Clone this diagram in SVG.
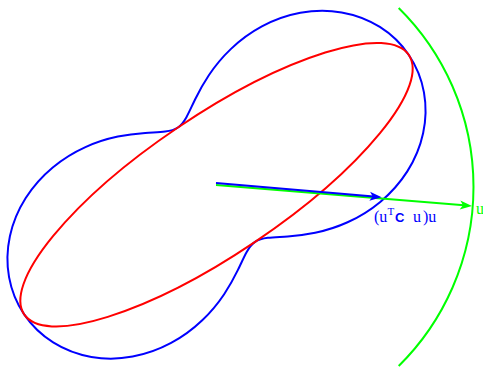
<svg xmlns="http://www.w3.org/2000/svg" width="483" height="368" viewBox="0 0 483 368">
<style>
.curve{fill:none;stroke-width:2}
.blue{stroke:#0000ff}
.red{stroke:#ff0000}
.green{stroke:#00ff00}
.serif{font-family:"Liberation Serif","Times New Roman",serif}
.sans{font-family:"Liberation Sans",Arial,sans-serif;font-weight:bold}
</style>
<defs>
<marker id="ahBlue" markerUnits="userSpaceOnUse" viewBox="-5 -6 14 12" markerWidth="14" markerHeight="12" refX="0" refY="0" orient="auto">
<path d="M8,0 L-4,-4.5 L-1,0 L-4,4.5 Z" fill="#0000ff"/>
</marker>
<marker id="ahGreen" markerUnits="userSpaceOnUse" viewBox="-5 -6 14 12" markerWidth="14" markerHeight="12" refX="0" refY="0" orient="auto">
<path d="M8,0 L-4,-4.5 L-1,0 L-4,4.5 Z" fill="#00ff00"/>
</marker>
</defs>
<rect width="483" height="368" fill="#ffffff"/>
<g id="unit-arc">
<path class="curve green" d="M398.7,8 A251.6,251.6 0 0 1 398.7,366"/>
</g>
<g id="peanut" transform="translate(216.5,184.7) rotate(-34)">
<path class="curve blue" d="M232,0 C232,13.50 229.13,26.98 223.64,39.43 C218.15,51.88 210.06,63.27 200.09,72.83 C190.13,82.39 178.31,90.10 165.63,95.63 C152.95,101.16 139.44,104.51 126.13,105.84 C112.82,107.18 99.72,106.51 87.64,104.45 C75.56,102.40 64.52,98.97 54.88,95.05 C45.24,91.13 37.02,86.74 30.12,82.76 C23.22,78.78 17.64,75.24 12.84,72.79 C8.04,70.34 4.01,69 0,69 C-4.01,69 -8.04,70.34 -12.84,72.79 C-17.64,75.24 -23.22,78.78 -30.12,82.76 C-37.02,86.74 -45.24,91.13 -54.88,95.05 C-64.52,98.97 -75.56,102.40 -87.64,104.45 C-99.72,106.51 -112.82,107.18 -126.13,105.84 C-139.44,104.51 -152.95,101.16 -165.63,95.63 C-178.31,90.10 -190.13,82.39 -200.09,72.83 C-210.06,63.27 -218.15,51.88 -223.64,39.43 C-229.13,26.98 -232,13.50 -232,0 C-232,-13.50 -229.13,-26.98 -223.64,-39.43 C-218.15,-51.88 -210.06,-63.27 -200.09,-72.83 C-190.13,-82.39 -178.31,-90.10 -165.63,-95.63 C-152.95,-101.16 -139.44,-104.51 -126.13,-105.84 C-112.82,-107.18 -99.72,-106.51 -87.64,-104.45 C-75.56,-102.40 -64.52,-98.97 -54.88,-95.05 C-45.24,-91.13 -37.02,-86.74 -30.12,-82.76 C-23.22,-78.78 -17.64,-75.24 -12.84,-72.79 C-8.04,-70.34 -4.01,-69 0,-69 C4.01,-69 8.04,-70.34 12.84,-72.79 C17.64,-75.24 23.22,-78.78 30.12,-82.76 C37.02,-86.74 45.24,-91.13 54.88,-95.05 C64.52,-98.97 75.56,-102.40 87.64,-104.45 C99.72,-106.51 112.82,-107.18 126.13,-105.84 C139.44,-104.51 152.95,-101.16 165.63,-95.63 C178.31,-90.10 190.13,-82.39 200.09,-72.83 C210.06,-63.27 218.15,-51.88 223.64,-39.43 C229.13,-26.98 232,-13.50 232,0 Z"/>
</g>
<g id="ellipse" transform="translate(216.5,184.7) rotate(-34)">
<ellipse class="curve red" cx="0" cy="0" rx="232" ry="69"/>
</g>
<g id="connectors">
<line id="arrow-u" class="curve green" x1="216" y1="185" x2="464" y2="205.35" marker-end="url(#ahGreen)"/>
<line id="arrow-Cu" class="curve blue" x1="216" y1="183" x2="373.7" y2="196.6" marker-end="url(#ahBlue)"/>
</g>
<g id="label-u">
<text class="serif" x="476" y="214" font-size="16" fill="#00ff00">u</text>
</g>
<g id="label-uCuu" fill="#0000ff">
<text class="serif" x="374" y="221.5" font-size="16">(u</text>
<text class="serif" x="387.5" y="215" font-size="11">T</text>
<text class="sans" x="395" y="221.5" font-size="13">C</text>
<text class="serif" x="413" y="221.5" font-size="16">u</text>
<text class="serif" x="423" y="221.5" font-size="16">)u</text>
</g>
</svg>
